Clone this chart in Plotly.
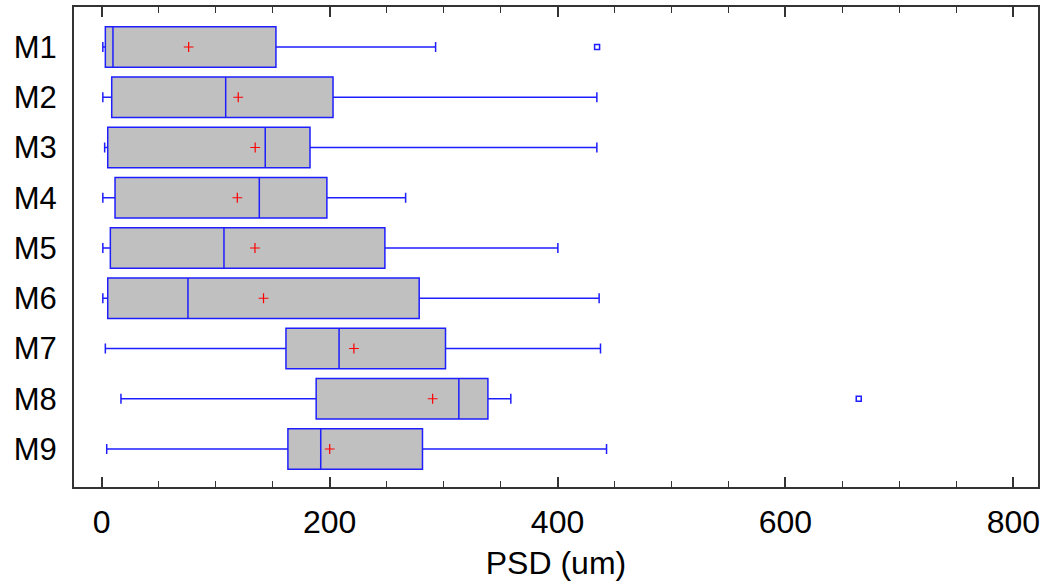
import plotly.graph_objects as go

categories = ["M1", "M2", "M3", "M4", "M5", "M6", "M7", "M8", "M9"]
lower_whisker = [1, 1, 2.6, 1, 1, 1, 3.2, 16.9, 4.4]
q1 = [3.2, 8.8, 5.3, 11.7, 7.6, 5.3, 161.7, 188.2, 163.4]
median = [9.9, 108.8, 143.5, 138.3, 107.3, 75.7, 208.3, 313.4, 192.2]
q3 = [152.9, 203, 182.8, 197.6, 248.5, 278.6, 301.7, 338.9, 281.5]
upper_whisker = [293, 434.5, 434.5, 266.7, 400.3, 436.5, 437.7, 359, 443]
means = [76.3, 119.8, 134.7, 119, 134.5, 142, 221.3, 290.4, 200.1]
outlier_cats = ["M1", "M8"]
outlier_vals = [434.7, 664.3]

x_title = "PSD (um)"

blue = "rgb(30,30,255)"
frame = "#333333"

fig = go.Figure()
fig.add_trace(go.Box(
    y=categories, q1=q1, median=median, q3=q3,
    lowerfence=lower_whisker, upperfence=upper_whisker,
    orientation="h", boxmean=False, boxpoints=False,
    fillcolor="#c0c0c0", line=dict(color=blue, width=1.5),
    width=0.81, whiskerwidth=0.25, showlegend=False, hoverinfo="skip",
))
fig.add_trace(go.Scatter(
    x=means, y=categories, mode="markers", showlegend=False,
    marker=dict(symbol="cross-thin", size=7, line=dict(color="red", width=1.2), color="red"),
))
fig.add_trace(go.Scatter(
    x=outlier_vals, y=outlier_cats, mode="markers", showlegend=False,
    marker=dict(symbol="square-open", size=5, color=blue, line=dict(color=blue, width=1.5)),
))

fig.update_layout(
    width=1045, height=588,
    margin=dict(l=74, r=7, t=7, b=101),
    plot_bgcolor="white", paper_bgcolor="white",
    font=dict(family="Liberation Sans, Arial, sans-serif", color="black"),
)
fig.update_xaxes(
    range=[-24.3, 821.6], tickvals=[0, 200, 400, 600, 800],
    ticks="inside", ticklen=10, tickwidth=1.5, tickcolor=frame,
    minor=dict(dtick=50, tick0=0, ticks="inside", ticklen=6, tickwidth=1.2, tickcolor=frame),
    showline=True, linecolor=frame, linewidth=2, mirror="ticks",
    showgrid=False, zeroline=False, automargin=False,
    tickfont=dict(size=32, family="Liberation Sans, Arial, sans-serif"),
    ticklabelstandoff=6,
    title=dict(text=x_title, font=dict(size=32), standoff=12),
)
fig.update_yaxes(
    type="category", categoryorder="array", categoryarray=categories,
    range=[8.756, -0.796],
    showline=True, linecolor=frame, linewidth=2, mirror=True,
    ticks="", showgrid=False, zeroline=False, automargin=False,
    tickfont=dict(size=31, family="Liberation Sans, Arial, sans-serif"),
    ticklabelstandoff=9,
)

fig.write_html("out.html", config={"displayModeBar": False},
               post_script="document.body.style.margin='0';")
